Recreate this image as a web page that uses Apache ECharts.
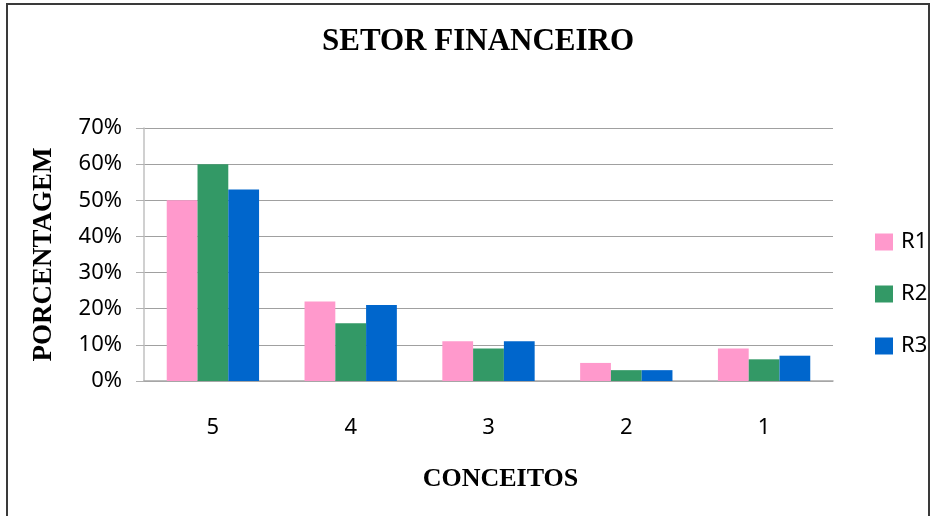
<!DOCTYPE html>
<html>
<head>
<meta charset="utf-8">
<script src="https://cdn.jsdelivr.net/npm/echarts@6/dist/echarts.min.js"></script>
<style>
html,body{margin:0;padding:0;background:#fff;}
#chart{width:932px;height:516px;}
</style>
</head>
<body>
<div id="chart"></div>
<script>
const categories = ['5', '4', '3', '2', '1'];
const seriesNames = ['R1', 'R2', 'R3'];
const r1 = [0.50, 0.22, 0.11, 0.05, 0.09];
const r2 = [0.60, 0.16, 0.09, 0.03, 0.06];
const r3 = [0.53, 0.21, 0.11, 0.03, 0.07];
const yTicks = [0, 0.1, 0.2, 0.3, 0.4, 0.5, 0.6, 0.7];
const colors = ['#FF99CC', '#339966', '#0066CC'];

const chart = echarts.init(document.getElementById('chart'), null, {renderer: 'canvas'});
const serif = '"Liberation Serif", "Times New Roman", serif';
const sans = '"Noto Sans", "Open Sans", sans-serif';

chart.setOption({
  animation: false,
  backgroundColor: '#fff',
  title: {
    text: 'SETOR FINANCEIRO',
    left: 473,
    textAlign: 'center',
    top: 21,
    textStyle: {fontFamily: serif, fontWeight: 'bold', fontSize: 31, color: '#000'}
  },
  legend: {
    orient: 'vertical',
    left: 870,
    top: 226,
    itemWidth: 18,
    itemHeight: 17,
    itemGap: 30,
    icon: 'rect',
    data: seriesNames,
    textStyle: {fontFamily: sans, fontSize: 22, color: '#000', lineHeight: 17, padding: [0, 0, 0, 3]}
  },
  grid: {left: 144, right: 99, top: 128, bottom: 135, containLabel: false},
  xAxis: {
    type: 'category',
    data: categories,
    name: 'CONCEITOS',
    nameLocation: 'middle',
    nameGap: 85,
    nameTextStyle: {fontFamily: serif, fontWeight: 'bold', fontSize: 26, color: '#000', padding: [0, 0, 0, 24]},
    axisLine: {lineStyle: {color: '#a8a8a8', width: 1.5}},
    axisTick: {show: false},
    axisLabel: {fontFamily: sans, fontSize: 22, color: '#000', margin: 36}
  },
  yAxis: {
    type: 'value',
    min: 0,
    max: 0.7,
    interval: 0.1,
    name: 'PORCENTAGEM',
    nameLocation: 'middle',
    nameRotate: 90,
    nameGap: 86,
    nameTextStyle: {fontFamily: serif, fontWeight: 'bold', fontSize: 27, color: '#000'},
    axisLine: {show: true, lineStyle: {color: '#c0c0c0', width: 1.5}},
    axisTick: {show: true, length: 8, inside: false, lineStyle: {color: '#b0b0b0'}},
    splitLine: {lineStyle: {color: '#a0a0a0', width: 1.2}},
    axisLabel: {
      fontFamily: sans, fontSize: 22, color: '#000', margin: 22,
      formatter: v => Math.round(v * 100) + '%'
    }
  },
  series: [r1, r2, r3].map((d, i) => ({
    name: seriesNames[i],
    type: 'bar',
    data: d,
    barGap: '0%',
    barCategoryGap: '33%',
    itemStyle: {color: colors[i]}
  })),
  graphic: [{
    type: 'rect',
    shape: {x: 7, y: 4, width: 922, height: 530},
    style: {fill: 'none', stroke: '#3a3a3a', lineWidth: 2},
    silent: true
  }]
});
</script>
</body>
</html>
